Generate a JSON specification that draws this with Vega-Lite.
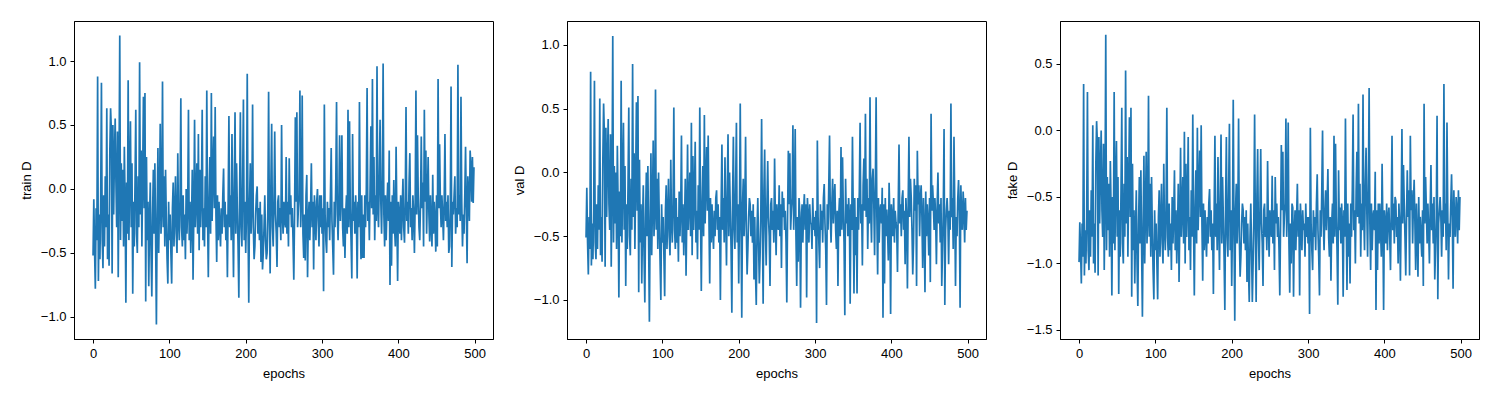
{
"$schema": "https://vega.github.io/schema/vega-lite/v6.json",
"background": "white",
"padding": {"left": 19, "top": 20, "right": 5, "bottom": 5},
"spacing": 18,
"data": {"format": {"type": "csv", "parse": {"e": "number", "t": "number", "v": "number", "f": "number"}},
"values": "e,t,v,f\n0,-0.52,-0.51,-0.99\n1,-0.08,-0.12,-0.69\n2,-0.48,-0.55,-0.90\n3,-0.78,-0.80,-1.15\n4,-0.15,-0.35,-0.70\n5,-0.40,-0.60,-0.95\n6,0.88,0.79,0.35\n7,-0.72,-0.73,-1.09\n8,-0.20,-0.40,-0.75\n9,-0.55,-0.68,-1.00\n10,-0.10,-0.30,-0.65\n11,0.83,0.72,0.29\n12,-0.40,-0.55,-0.90\n13,-0.62,-0.68,-1.05\n14,-0.05,-0.25,-0.60\n15,-0.45,-0.60,-0.95\n16,0.10,-0.10,-0.45\n17,-0.30,-0.45,-0.80\n18,0.63,0.58,0.04\n19,-0.55,-0.65,-1.00\n20,-0.20,-0.35,-0.70\n21,-0.60,-0.70,-1.07\n22,0.30,0.10,-0.25\n23,0.63,0.54,0.07\n24,0.45,0.30,-0.10\n25,-0.66,-0.74,-1.09\n26,0.50,0.35,-0.05\n27,-0.20,-0.35,-0.70\n28,0.25,0.10,-0.30\n29,0.55,0.42,0.00\n30,0.05,-0.25,-0.60\n31,-0.30,-0.45,-0.80\n32,0.45,0.30,-0.10\n33,-0.69,-0.74,-1.05\n34,0.10,-0.10,-0.50\n35,1.20,1.07,0.72\n36,-0.40,-0.55,-0.90\n37,0.20,0.05,-0.35\n38,-0.25,-0.40,-0.75\n39,0.15,0.00,-0.40\n40,-0.45,-0.60,-0.95\n41,0.33,0.21,-0.23\n42,-0.10,-0.25,-0.60\n43,-0.89,-0.98,-1.24\n44,0.05,-0.15,-0.50\n45,-0.35,-0.50,-0.85\n46,0.85,0.72,0.29\n47,-0.40,-0.55,-0.90\n48,0.10,-0.05,-0.40\n49,0.53,0.39,-0.08\n50,-0.30,-0.45,-0.80\n51,0.20,0.05,-0.35\n52,-0.82,-0.89,-1.23\n53,-0.10,-0.25,-0.60\n54,-0.45,-0.60,-0.95\n55,0.05,-0.10,-0.45\n56,0.62,0.51,0.17\n57,-0.35,-0.50,-0.85\n58,-0.50,-0.65,-1.00\n59,0.10,-0.05,-0.40\n60,-0.30,-0.45,-0.80\n61,0.99,0.85,0.45\n62,-0.20,-0.35,-0.70\n63,0.30,0.15,-0.20\n64,-0.45,-0.60,-0.95\n65,0.10,-0.05,-0.40\n66,0.72,0.55,0.10\n67,-0.15,-0.30,-0.65\n68,0.75,0.60,0.17\n69,-0.88,-0.94,-1.25\n70,0.25,0.10,-0.25\n71,-0.40,-0.55,-0.90\n72,-0.10,-0.25,-0.60\n73,-0.76,-0.87,-1.15\n74,-0.25,-0.40,-0.75\n75,0.05,-0.10,-0.45\n76,-0.50,-0.65,-1.00\n77,-0.84,-1.02,-1.32\n78,-0.20,-0.35,-0.70\n79,0.15,0.00,-0.35\n80,-0.35,-0.50,-0.85\n81,0.20,0.05,-0.30\n82,-0.40,-0.55,-0.90\n83,-1.06,-1.17,-1.40\n84,-0.20,-0.35,-0.70\n85,0.32,0.15,-0.19\n86,-0.50,-0.65,-1.00\n87,-0.10,-0.25,-0.60\n88,0.51,0.25,-0.16\n89,-0.35,-0.50,-0.85\n90,-0.15,-0.30,-0.65\n91,0.84,0.65,0.26\n92,-0.30,-0.45,-0.80\n93,0.10,-0.05,-0.40\n94,-0.45,-0.60,-0.95\n95,0.15,0.00,-0.35\n96,-0.25,-0.40,-0.75\n97,-0.55,-0.70,-1.05\n98,-0.74,-1.00,-1.27\n99,-0.10,-0.25,-0.60\n100,-0.40,-0.55,-0.90\n101,-0.20,-0.35,-0.70\n102,-0.50,-0.65,-1.00\n103,-0.74,-0.97,-1.27\n104,-0.15,-0.30,-0.65\n105,0.05,-0.10,-0.45\n106,-0.45,-0.60,-0.95\n107,-0.20,-0.35,-0.70\n108,0.10,-0.05,-0.40\n109,-0.35,-0.50,-0.85\n110,-0.50,-0.65,-1.00\n111,0.28,0.10,-0.25\n112,-0.25,-0.40,-0.75\n113,-0.40,-0.55,-0.90\n114,-0.10,-0.25,-0.60\n115,0.71,0.51,0.17\n116,-0.30,-0.45,-0.80\n117,-0.45,-0.60,-0.95\n118,-0.05,-0.20,-0.55\n119,-0.40,-0.55,-0.90\n120,-0.20,-0.35,-0.70\n121,-0.55,-0.70,-1.05\n122,0.00,-0.15,-0.50\n123,-0.35,-0.50,-0.85\n124,-0.15,-0.30,-0.65\n125,0.62,0.29,-0.30\n126,-0.40,-0.55,-0.90\n127,-0.10,-0.25,-0.60\n128,-0.50,-0.65,-1.00\n129,-0.25,-0.40,-0.75\n130,0.15,-0.05,-0.40\n131,-0.71,-0.81,-1.14\n132,-0.20,-0.35,-0.70\n133,0.54,0.22,-0.13\n134,-0.30,-0.45,-0.80\n135,-0.10,-0.25,-0.60\n136,0.20,0.00,-0.35\n137,-0.35,-0.50,-0.85\n138,0.43,0.39,-0.01\n139,-0.48,-0.65,-1.00\n140,0.15,0.13,-0.25\n141,-0.30,-0.45,-0.80\n142,-0.05,-0.20,-0.55\n143,0.62,0.24,-0.05\n144,-0.40,-0.55,-0.90\n145,-0.15,-0.30,-0.65\n146,-0.45,-0.68,-1.05\n147,0.10,-0.10,-0.45\n148,-0.30,-0.45,-0.80\n149,0.77,0.51,0.12\n150,-0.20,-0.35,-0.70\n151,-0.69,-0.93,-1.24\n152,-0.10,-0.25,-0.60\n153,0.25,0.05,-0.30\n154,-0.35,-0.50,-0.85\n155,0.75,0.45,0.02\n156,-0.25,-0.40,-0.75\n157,0.10,-0.10,-0.45\n158,0.41,0.20,-0.15\n159,-0.15,-0.30,-0.65\n160,0.64,0.29,0.04\n161,-0.20,-0.35,-0.70\n162,-0.57,-0.87,-1.13\n163,-0.05,-0.20,-0.55\n164,-0.40,-0.55,-0.90\n165,-0.10,-0.25,-0.60\n166,-0.30,-0.45,-0.80\n167,-0.45,-0.60,-0.95\n168,-0.15,-0.30,-0.65\n169,-0.35,-0.50,-0.85\n170,-0.05,-0.20,-0.55\n171,0.16,-0.14,-0.44\n172,-0.30,-0.45,-0.80\n173,-0.10,-0.25,-0.60\n174,-0.40,-0.55,-0.90\n175,-0.20,-0.35,-0.70\n176,-0.69,-1.00,-1.23\n177,-0.10,-0.25,-0.60\n178,0.57,0.22,-0.04\n179,-0.30,-0.45,-0.80\n180,-0.05,-0.20,-0.55\n181,-0.40,-0.55,-0.90\n182,0.43,0.12,-0.20\n183,-0.20,-0.35,-0.70\n184,-0.69,-0.73,-1.05\n185,0.00,-0.15,-0.50\n186,0.60,0.30,-0.03\n187,-0.35,-0.50,-0.85\n188,0.20,0.00,-0.35\n189,-0.15,-0.30,-0.65\n190,-0.45,-0.60,-0.95\n191,-0.85,-1.10,-1.35\n192,-0.05,-0.20,-0.55\n193,0.60,0.28,-0.05\n194,-0.30,-0.45,-0.80\n195,-0.45,-0.60,-0.95\n196,0.05,-0.10,-0.45\n197,0.70,0.39,0.05\n198,-0.40,-0.55,-0.90\n199,-0.10,-0.25,-0.60\n200,-0.50,-0.87,-1.17\n201,-0.20,-0.35,-0.70\n202,0.90,0.54,0.23\n203,-0.25,-0.40,-0.75\n204,-0.89,-1.14,-1.43\n205,-0.10,-0.25,-0.60\n206,0.20,-0.05,-0.40\n207,-0.35,-0.50,-0.85\n208,-0.15,-0.30,-0.65\n209,0.66,0.28,0.09\n210,-0.30,-0.45,-0.80\n211,-0.55,-0.80,-1.10\n212,-0.45,-0.60,-0.95\n213,-0.20,-0.35,-0.70\n214,-0.05,-0.20,-0.55\n215,0.02,-0.25,-0.60\n216,-0.35,-0.50,-0.85\n217,-0.15,-0.30,-0.65\n218,-0.40,-0.55,-0.90\n219,-0.10,-0.25,-0.60\n220,-0.57,-0.84,-1.14\n221,-0.20,-0.35,-0.70\n222,-0.63,-0.78,-1.05\n223,-0.50,-1.04,-1.29\n224,-0.30,-0.45,-0.80\n225,-0.05,-0.20,-0.55\n226,-0.40,-0.55,-0.90\n227,-0.55,-0.87,-1.29\n228,-0.50,-0.65,-1.00\n229,-0.15,-0.30,-0.65\n230,0.76,0.42,0.12\n231,-0.25,-0.40,-0.75\n232,-0.66,-1.03,-1.29\n233,0.05,-0.15,-0.50\n234,0.51,0.18,-0.14\n235,-0.30,-0.45,-0.80\n236,-0.45,-0.73,-1.05\n237,-0.10,-0.25,-0.60\n238,0.45,0.09,-0.14\n239,-0.20,-0.35,-0.70\n240,-0.35,-0.50,-0.85\n241,-0.61,-0.89,-1.17\n242,-0.10,-0.25,-0.60\n243,-0.05,-0.20,-0.55\n244,-0.30,-0.45,-0.80\n245,-0.15,-0.30,-0.65\n246,-0.40,-0.55,-0.90\n247,0.50,0.11,-0.23\n248,-0.20,-0.35,-0.70\n249,-0.35,-0.65,-0.95\n250,-0.10,-0.25,-0.60\n251,-0.25,-0.40,-0.75\n252,-0.30,-0.45,-0.80\n253,0.25,-0.10,-0.34\n254,-0.35,-0.50,-0.85\n255,-0.10,-0.25,-0.60\n256,-0.45,-0.75,-1.05\n257,0.24,-0.15,-0.35\n258,-0.20,-0.35,-0.70\n259,-0.05,-0.20,-0.55\n260,-0.30,-0.45,-0.80\n261,-0.15,-0.30,-0.65\n262,-0.40,-0.55,-0.90\n263,-0.71,-1.02,-1.24\n264,-0.20,-0.35,-0.70\n265,0.56,0.17,-0.11\n266,-0.10,-0.25,-0.60\n267,0.60,0.15,-0.16\n268,-0.30,-0.45,-0.80\n269,-0.15,-0.30,-0.65\n270,-0.05,-0.20,-0.55\n271,0.77,0.37,0.09\n272,-0.30,-0.45,-0.80\n273,-0.10,-0.25,-0.60\n274,0.73,0.34,0.06\n275,-0.35,-0.50,-0.85\n276,-0.54,-0.89,-1.22\n277,-0.20,-0.35,-0.70\n278,-0.56,-0.70,-1.00\n279,-0.05,-0.20,-0.55\n280,0.11,-0.31,-0.58\n281,-0.69,-1.06,-1.25\n282,-0.25,-0.40,-0.75\n283,-0.10,-0.25,-0.60\n284,-0.40,-0.55,-0.90\n285,-0.15,-0.30,-0.65\n286,0.20,-0.17,-0.40\n287,-0.30,-0.45,-0.80\n288,-0.10,-0.25,-0.60\n289,-0.63,-0.98,-1.24\n290,-0.05,-0.20,-0.55\n291,-0.20,-0.35,-0.70\n292,-0.40,-0.55,-0.90\n293,-0.10,-0.25,-0.60\n294,0.00,-0.40,-0.75\n295,-0.25,-0.40,-0.70\n296,-0.45,-0.60,-0.95\n297,-0.05,-0.20,-0.55\n298,-0.30,-0.45,-0.80\n299,-0.05,-0.35,-0.65\n300,-0.35,-0.50,-0.85\n301,-0.15,-0.30,-0.65\n302,-0.80,-1.18,-1.38\n303,0.66,0.25,0.02\n304,-0.20,-0.35,-0.70\n305,-0.40,-0.55,-0.90\n306,-0.50,-0.75,-1.05\n307,-0.10,-0.25,-0.60\n308,-0.30,-0.45,-0.80\n309,-0.15,-0.30,-0.65\n310,-0.40,-0.55,-0.90\n311,-0.05,-0.20,-0.55\n312,0.32,-0.09,-0.33\n313,-0.25,-0.40,-0.75\n314,-0.45,-0.60,-0.95\n315,-0.67,-1.04,-1.24\n316,-0.10,-0.25,-0.60\n317,-0.30,-0.45,-0.80\n318,0.05,-0.10,-0.45\n319,0.68,0.29,0.00\n320,-0.20,-0.35,-0.70\n321,-0.40,-0.55,-0.90\n322,-0.10,-0.25,-0.60\n323,0.42,-0.05,-0.45\n324,-0.25,-0.40,-0.75\n325,-0.05,-0.20,-0.55\n326,0.42,-0.09,-0.29\n327,-0.30,-0.45,-0.80\n328,-0.45,-0.60,-0.95\n329,-0.15,-0.30,-0.65\n330,-0.54,-0.89,-1.13\n331,-0.20,-0.35,-0.70\n332,-0.05,-0.20,-0.55\n333,-0.35,-0.50,-0.85\n334,0.62,0.20,-0.04\n335,-0.30,-0.45,-0.80\n336,0.53,0.12,-0.10\n337,-0.15,-0.30,-0.65\n338,-0.40,-0.55,-0.90\n339,-0.70,-1.12,-1.31\n340,0.43,-0.05,-0.30\n341,-0.25,-0.40,-0.75\n342,-0.10,-0.25,-0.58\n343,-0.35,-0.50,-0.85\n344,-0.05,-0.20,-0.55\n345,-0.20,-0.35,-0.70\n346,-0.70,-1.03,-1.25\n347,-0.10,-0.25,-0.60\n348,-0.30,-0.45,-0.80\n349,0.68,0.28,0.09\n350,-0.15,-0.30,-0.65\n351,-0.55,-0.95,-1.20\n352,-0.05,-0.20,-0.55\n353,-0.54,-0.65,-0.95\n354,-0.20,-0.35,-0.70\n355,-0.54,-0.95,-1.15\n356,-0.05,-0.20,-0.55\n357,-0.30,-0.45,-0.80\n358,0.00,-0.15,-0.45\n359,0.79,0.39,0.12\n360,-0.25,-0.40,-0.75\n361,-0.10,-0.25,-0.60\n362,-0.40,-0.73,-1.00\n363,0.05,-0.10,-0.45\n364,0.49,0.11,-0.16\n365,-0.15,-0.30,-0.65\n366,0.86,0.46,0.20\n367,-0.20,-0.35,-0.70\n368,0.25,-0.05,-0.40\n369,-0.40,-0.60,-0.95\n370,-0.05,-0.20,-0.55\n371,-0.25,-0.40,-0.75\n372,0.96,0.59,0.27\n373,-0.15,-0.30,-0.65\n374,-0.30,-0.55,-0.90\n375,0.10,-0.05,-0.40\n376,0.54,0.03,-0.13\n377,-0.10,-0.25,-0.60\n378,-0.35,-0.65,-0.95\n379,0.05,-0.10,-0.45\n380,0.98,0.59,0.32\n381,-0.20,-0.35,-0.70\n382,-0.45,-0.80,-1.05\n383,-0.05,-0.20,-0.55\n384,-0.40,-0.55,-0.90\n385,-0.15,-0.30,-0.65\n386,0.05,-0.25,-0.60\n387,-0.25,-0.40,-0.75\n388,0.30,-0.12,-0.31\n389,-0.75,-1.14,-1.35\n390,-0.10,-0.25,-0.60\n391,-0.60,-0.87,-1.05\n392,-0.05,-0.20,-0.55\n393,-0.35,-0.50,-0.85\n394,0.07,-0.29,-0.55\n395,-0.30,-0.45,-0.75\n396,-0.45,-0.69,-0.95\n397,0.33,-0.08,-0.25\n398,-0.20,-0.35,-0.70\n399,-0.72,-1.11,-1.35\n400,-0.10,-0.25,-0.60\n401,-0.20,-0.35,-0.70\n402,-0.35,-0.50,-0.85\n403,-0.05,-0.20,-0.55\n404,-0.40,-0.55,-0.90\n405,-0.15,-0.30,-0.65\n406,0.08,-0.39,-0.58\n407,-0.30,-0.45,-0.80\n408,-0.42,-0.78,-1.05\n409,-0.10,-0.25,-0.60\n410,0.64,0.22,-0.04\n411,-0.25,-0.40,-0.75\n412,-0.10,-0.25,-0.55\n413,-0.35,-0.50,-0.85\n414,0.05,-0.20,-0.50\n415,0.28,-0.14,-0.53\n416,-0.30,-0.45,-0.80\n417,-0.15,-0.30,-0.65\n418,-0.40,-0.72,-1.00\n419,-0.05,-0.20,-0.55\n420,-0.20,-0.35,-0.70\n421,-0.50,-0.91,-1.13\n422,-0.10,-0.25,-0.60\n423,0.77,0.28,0.01\n424,-0.20,-0.35,-0.70\n425,0.42,-0.05,-0.26\n426,-0.05,-0.20,-0.55\n427,-0.30,-0.45,-0.80\n428,-0.40,-0.80,-1.09\n429,-0.10,-0.55,-0.65\n430,0.41,-0.05,-0.30\n431,-0.15,-0.30,-0.65\n432,0.05,-0.10,-0.45\n433,-0.45,-0.89,-1.09\n434,0.62,0.17,-0.04\n435,-0.10,-0.25,-0.60\n436,0.30,-0.10,-0.45\n437,-0.35,-0.50,-0.85\n438,-0.05,-0.20,-0.55\n439,0.25,-0.10,-0.37\n440,-0.20,-0.35,-0.70\n441,-0.41,-0.75,-1.05\n442,-0.05,-0.20,-0.55\n443,-0.30,-0.45,-0.80\n444,-0.45,-0.94,-1.10\n445,0.11,-0.15,-0.50\n446,-0.35,-0.50,-0.85\n447,-0.10,-0.25,-0.65\n448,-0.25,-0.40,-0.80\n449,-0.49,-0.65,-0.95\n450,-0.05,-0.20,-0.60\n451,-0.45,-0.86,-1.17\n452,0.86,0.46,0.20\n453,-0.15,-0.30,-0.70\n454,0.35,-0.10,-0.35\n455,-0.10,-0.25,-0.60\n456,-0.30,-0.45,-0.85\n457,-0.05,-0.20,-0.55\n458,-0.20,-0.35,-0.75\n459,-0.40,-0.72,-1.00\n460,-0.10,-0.25,-0.60\n461,0.43,0.00,-0.26\n462,-0.25,-0.40,-0.75\n463,-0.10,-0.25,-0.55\n464,-0.30,-0.55,-0.85\n465,-0.05,-0.20,-0.50\n466,-0.50,-0.89,-1.12\n467,-0.45,-0.60,-0.90\n468,-0.15,-0.30,-0.65\n469,0.80,0.34,0.11\n470,-0.61,-1.04,-1.27\n471,-0.10,-0.45,-0.70\n472,-0.20,-0.30,-0.60\n473,-0.05,-0.20,-0.50\n474,0.10,-0.35,-0.65\n475,-0.35,-0.72,-0.95\n476,-0.15,-0.30,-0.60\n477,-0.30,-0.45,-0.80\n478,0.97,0.54,0.35\n479,-0.20,-0.35,-0.70\n480,-0.05,-0.20,-0.55\n481,-0.25,-0.60,-0.90\n482,0.72,0.28,0.06\n483,-0.10,-0.25,-0.60\n484,-0.45,-0.89,-1.12\n485,-0.20,-0.35,-0.70\n486,-0.35,-0.50,-0.80\n487,-0.05,-0.20,-0.55\n488,0.33,-0.06,-0.33\n489,-0.15,-0.30,-0.65\n490,-0.58,-1.06,-1.19\n491,0.10,-0.10,-0.45\n492,-0.05,-0.35,-0.70\n493,-0.25,-0.45,-0.80\n494,0.30,-0.15,-0.50\n495,0.17,-0.29,-0.60\n496,-0.10,-0.55,-0.85\n497,0.25,-0.20,-0.45\n498,-0.11,-0.45,-0.75\n499,0.17,-0.30,-0.50\n"},
"config": {
 "view": {"stroke": "black", "strokeWidth": 1},
 "axis": {"grid": false, "domainColor": "black", "tickColor": "black", "labelColor": "black", "titleColor": "black", "labelFont": "Liberation Sans", "titleFont": "Liberation Sans", "labelFontSize": 13, "titleFontSize": 13, "titleFontWeight": "normal", "tickSize": 4, "labelPadding": 4},
 "axisX": {"titlePadding": 7},
 "axisY": {"titlePadding": 7}
},
"hconcat": [
 {"width": 419, "height": 318,
  "mark": {"type": "line", "color": "#1f77b4", "strokeWidth": 1.7},
  "encoding": {
   "x": {"field": "e", "type": "quantitative", "scale": {"domain": [-24.95, 523.95], "nice": false, "zero": false}, "axis": {"values": [0, 100, 200, 300, 400, 500], "title": "epochs"}},
   "y": {"field": "t", "type": "quantitative", "scale": {"domain": [-1.173, 1.313], "nice": false, "zero": false}, "axis": {"values": [-1, -0.5, 0, 0.5, 1], "format": ".1f", "title": "train D"}}
  }},
 {"width": 419, "height": 318,
  "mark": {"type": "line", "color": "#1f77b4", "strokeWidth": 1.7},
  "encoding": {
   "x": {"field": "e", "type": "quantitative", "scale": {"domain": [-24.95, 523.95], "nice": false, "zero": false}, "axis": {"values": [0, 100, 200, 300, 400, 500], "title": "epochs"}},
   "y": {"field": "v", "type": "quantitative", "scale": {"domain": [-1.306, 1.188], "nice": false, "zero": false}, "axis": {"values": [-1, -0.5, 0, 0.5, 1], "format": ".1f", "title": "val D"}}
  }},
 {"width": 419, "height": 318,
  "mark": {"type": "line", "color": "#1f77b4", "strokeWidth": 1.7},
  "encoding": {
   "x": {"field": "e", "type": "quantitative", "scale": {"domain": [-24.95, 523.95], "nice": false, "zero": false}, "axis": {"values": [0, 100, 200, 300, 400, 500], "title": "epochs"}},
   "y": {"field": "f", "type": "quantitative", "scale": {"domain": [-1.568, 0.823], "nice": false, "zero": false}, "axis": {"values": [-1.5, -1, -0.5, 0, 0.5], "format": ".1f", "title": "fake D"}}
  }}
]
}
